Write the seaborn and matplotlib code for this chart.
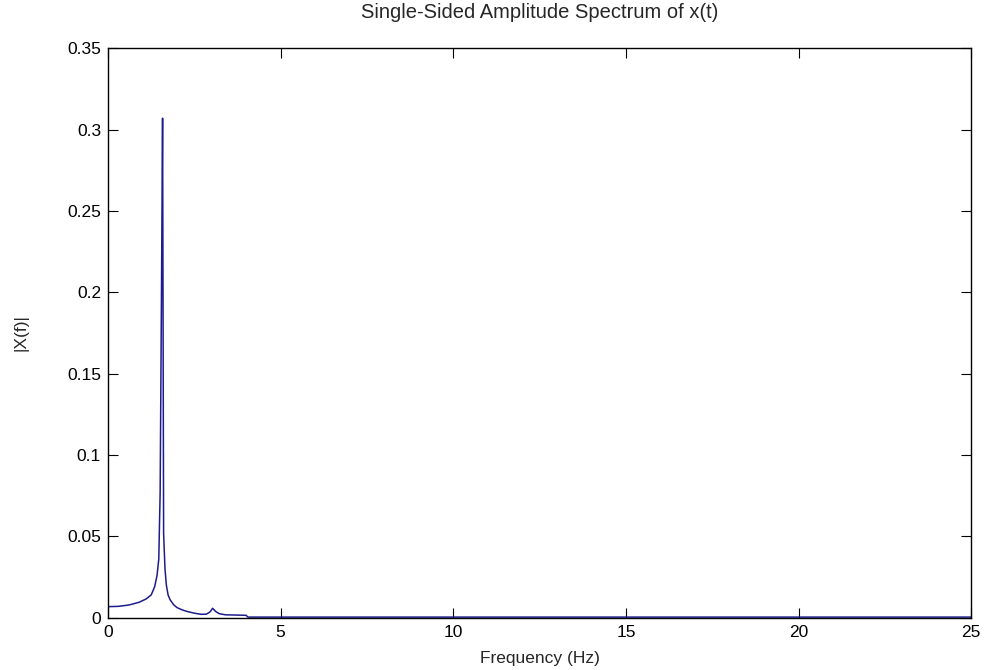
import matplotlib
matplotlib.use('Agg')
import matplotlib.pyplot as plt
import seaborn as sns
import pandas as pd

# values
freq = [0.0, 0.3, 0.6, 0.9, 1.1, 1.25, 1.35, 1.42, 1.47, 1.51, 1.55, 1.58,
        1.61, 1.65, 1.69, 1.74, 1.80, 1.90, 2.00, 2.15, 2.30, 2.50, 2.70,
        2.85, 2.95, 3.03, 3.12, 3.22, 3.40, 4.00, 4.05, 25.0]
amp = [0.0068, 0.0070, 0.0078, 0.0095, 0.0115, 0.014, 0.019, 0.026, 0.036,
       0.077, 0.205, 0.307, 0.052, 0.030, 0.020, 0.014, 0.011, 0.008, 0.0062,
       0.0048, 0.0038, 0.0028, 0.0021, 0.0022, 0.0035, 0.0058, 0.0038, 0.0025,
       0.0018, 0.0015, 0.0004, 0.0004]
xticks = [0, 5, 10, 15, 20, 25]
yticks = [0, 0.05, 0.1, 0.15, 0.2, 0.25, 0.3, 0.35]
ytick_labels = ['0', '0.05', '0.1', '0.15', '0.2', '0.25', '0.3', '0.35']

df = pd.DataFrame({'f': freq, 'amp': amp})

sns.set_style('ticks')
plt.rcParams['font.family'] = ['Liberation Sans', 'DejaVu Sans']

fig = plt.figure(figsize=(9.91, 6.70), dpi=100, facecolor='white')
ax = fig.add_axes([0.109, 0.078, 0.871, 0.850])

sns.lineplot(data=df, x='f', y='amp', ax=ax, color='#1c1c8c', linewidth=1.1,
             sort=False, estimator=None)

ax.set_xlim(0, 25)
ax.set_ylim(0, 0.35)
ax.set_xticks(xticks)
ax.set_xticklabels([str(t) for t in xticks])
ax.set_yticks(yticks)
ax.set_yticklabels(ytick_labels)
ax.tick_params(direction='in', length=7, width=0.8, top=True, right=True,
               labelsize=12.5, colors='black', pad=5)
for s in ax.spines.values():
    s.set_visible(True)
    s.set_linewidth(1.0)
    s.set_color('black')

ax.set_title('Single-Sided Amplitude Spectrum of x(t)', fontsize=14.5, pad=22)
ax.set_xlabel('Frequency (Hz)', fontsize=12.5, labelpad=8)
ax.set_ylabel('|X(f)|', fontsize=12.5, labelpad=28)

fig.savefig('out.png', dpi=100, facecolor='white')
